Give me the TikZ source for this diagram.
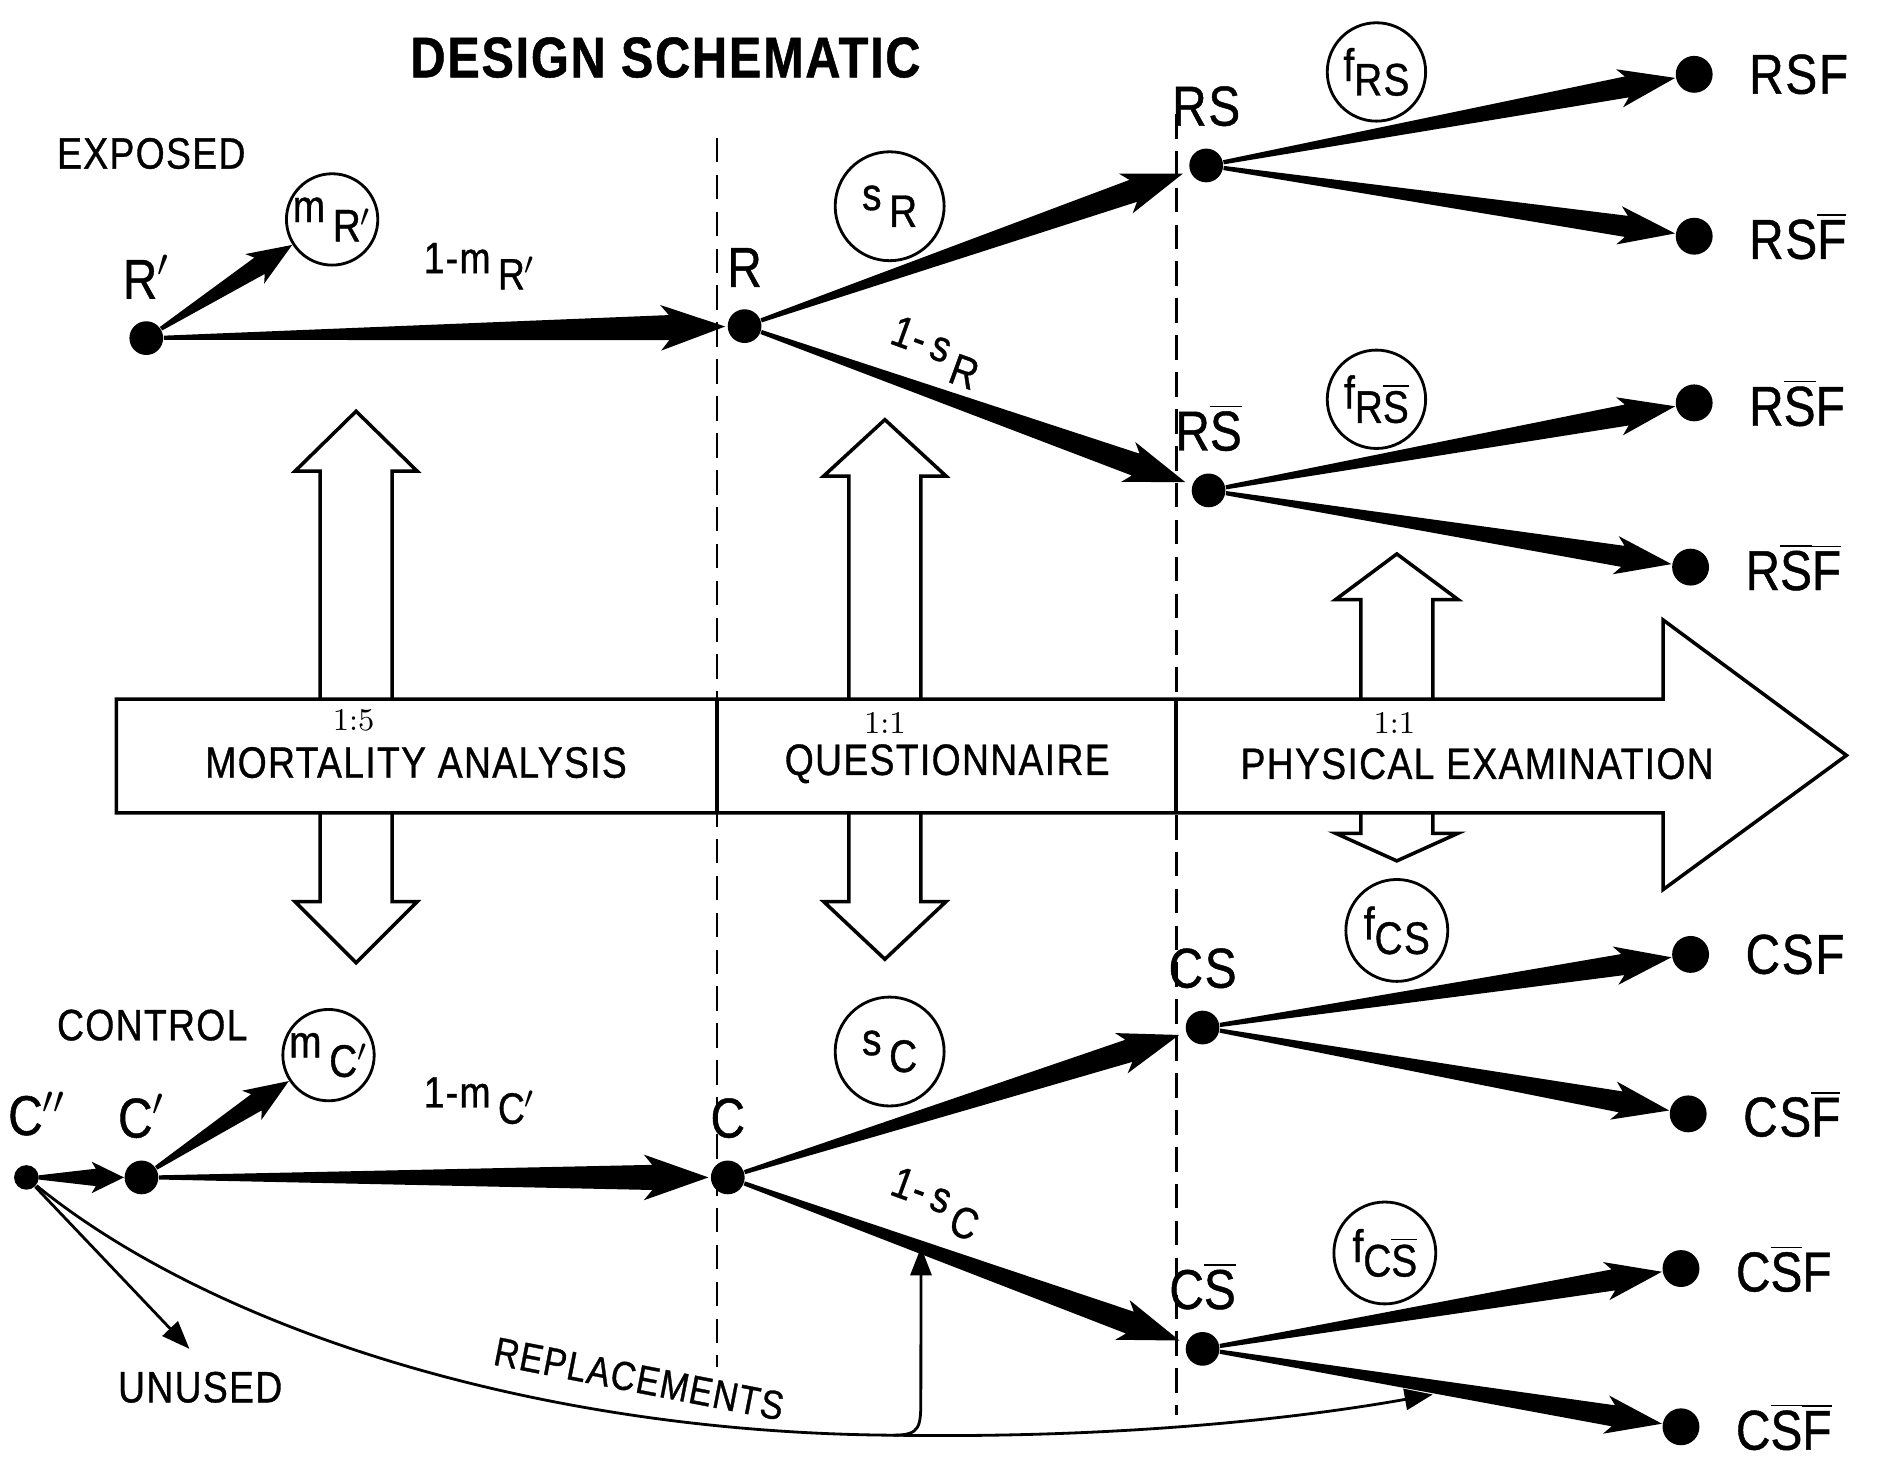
\documentclass[tikz,border=0pt]{standalone}
\usepackage{fontspec}
\setsansfont{Liberation Sans}[FakeStretch=0.85, FakeBold=0.8, LetterSpace=3]
\renewcommand{\familydefault}{\sfdefault}
\usepackage{tikz}
\usetikzlibrary{positioning}
\usetikzlibrary{arrows.meta, calc}

\newcommand\ovl[1]{$\overline{\mbox{#1}}$}
% tapered arrow: from, to, start gap, end gap, head length, head half width
\newcommand\wedgearrow[6]{%
  \fill let \p1=($(#1)!#3!(#2)$), \p2=($(#2)!#4!(#1)$),
            \p3=($(\p2)!#5!(\p1)$), \p4=($(\p2)!1.15*#5!(\p1)$) in
    ($(\p1)!0.6pt!90:(\p2)$) -- ($(\p3)!0.55*#6!-90:(\p1)$) -- ($(\p4)!#6!-90:(\p1)$)
    -- (\p2) -- ($(\p4)!#6!90:(\p1)$) -- ($(\p3)!0.55*#6!90:(\p1)$)
    -- ($(\p1)!0.6pt!-90:(\p2)$) -- cycle;}

\begin{document}
\begin{tikzpicture}[x=0.012cm, y=-0.012cm,
	event/.style={circle, fill=black, inner sep=0pt, minimum size=#1},
	event/.default=9.6pt,
	prob/.style={draw, circle, line width=0.8pt, inner sep=0pt, minimum size=#1,
		font=\fontsize{13}{14}\selectfont},
	prob/.default=26pt,
	lbl/.style={inner sep=0pt, font=\fontsize{16}{18}\selectfont},
	heading/.style={inner sep=0pt, font=\bfseries\fontsize{16.3}{18}\selectfont},
	grp/.style={anchor=west, inner sep=0pt, font=\fontsize{12.5}{14}\selectfont},
	stage/.style={inner sep=0pt, font=\fontsize{12.5}{14}\selectfont},
	ratiotext/.style={inner sep=0pt, font=\rmfamily\fontsize{9}{10}\selectfont},
	divider/.style={dash pattern=on 7pt off 3.5pt, line width=0.8pt},
	hollow/.style={draw, line width=1pt, fill=white, line join=miter},
	thin arr/.style={line width=0.8pt, -{Triangle[length=8pt, width=6pt]}}]

	\useasboundingbox (0,0) rectangle (1568,1216);

	\node [heading] (title) at (555,48) {DESIGN SCHEMATIC};
	\node [grp] (exposed) at (47,128) {EXPOSED};
	\node [grp] (control) at (47,855) {CONTROL};

	% phase dividers
	\draw [divider] (598,115) -- (598,1140);
	\draw [divider] (981,95) -- (981,1180);

	% matching ratio arrows
	\foreach \xc/\yt/\ht/\yb/\hb in {297/343/50/803/51, 738/350/47/800/48, 1165/462/38/718/23} {
		\draw [hollow] (\xc-30,600) -- (\xc-30,\yt+\ht) -- (\xc-51,\yt+\ht) -- (\xc,\yt)
			-- (\xc+51,\yt+\ht) -- (\xc+30,\yt+\ht) -- (\xc+30,600);
		\draw [hollow] (\xc-30,660) -- (\xc-30,\yb-\hb) -- (\xc-51,\yb-\hb) -- (\xc,\yb)
			-- (\xc+51,\yb-\hb) -- (\xc+30,\yb-\hb) -- (\xc+30,660);
	}

	% study phases
	\draw [hollow] (97,583) -- (1387,583) -- (1387,517) -- (1540,630) -- (1387,742)
		-- (1387,678) -- (97,678) -- cycle;
	\draw [line width=1pt] (598,583) -- (598,678) (981,583) -- (981,678);
	\node [ratiotext] (r1) at (295,601) {1:5};
	\node [stage] (mort) at (347,636) {MORTALITY ANALYSIS};
	\node [ratiotext] (r2) at (738,603) {1:1};
	\node [stage] (quest) at (790,637) {QUESTIONNAIRE};
	\node [ratiotext] (r3) at (1163,603) {1:1};
	\node [stage] (phys) at (1232,637) {PHYSICAL EXAMINATION};

	% exposed group
	\node [event] (Rp) at (122,282) {};
	\node [event] (R) at (621,272) {};
	\node [event] (RS) at (1006,138) {};
	\node [event] (RSb) at (1008,409) {};
	\node [event=10.5pt] (RSF) at (1413,62) {};
	\node [event=10.5pt] (RSFb) at (1413,197) {};
	\node [event=10.5pt] (RSbF) at (1413,336) {};
	\node [event=10.5pt] (RSbFb) at (1410,473) {};

	\node [lbl, above=6pt of Rp] (Rplab) {R$'$};
	\node [lbl, above=6pt of R] (Rlab) {R};
	\node [lbl, above=6pt of RS] (RSlab) {RS};
	\node [lbl, above=6pt of RSb] (RSblab) {R\ovl{S}};
	\node [lbl, right=10pt of RSF] (RSFlab) {RSF};
	\node [lbl, right=10pt of RSFb] (RSFblab) {RS\ovl{F}};
	\node [lbl, right=10pt of RSbF] (RSbFlab) {R\ovl{S}F};
	\node [lbl, right=10pt of RSbFb] (RSbFblab) {R\ovl{S}\ovl{F}};

	\node [prob] (mR) at (277,183) {m\,\raisebox{-0.8ex}{R$'$}};
	\node [prob=31pt] (sR) at (742,172) {s\,\raisebox{-0.7ex}{R}};
	\node [prob=28pt] (fRS) at (1148,60) {f\raisebox{-0.6ex}{RS}};
	\node [prob=28pt] (fRSb) at (1148,333) {f\raisebox{-0.6ex}{R\ovl{S}}};
	\node [stage] (mRlab) at (400,222) {1-m\,\raisebox{-0.7ex}{R$'$}};
	\node [stage, rotate=-20] (sRlab) at (780,294) {1-\,s\,\raisebox{-0.7ex}{R}};

	\wedgearrow{Rp}{mR}{5pt}{13.5pt}{11pt}{5pt}
	\wedgearrow{Rp}{R}{5pt}{5.5pt}{16pt}{6.5pt}
	\wedgearrow{R}{RS}{5pt}{7pt}{15pt}{6pt}
	\wedgearrow{R}{RSb}{5pt}{7pt}{15pt}{6pt}
	\wedgearrow{RS}{RSF}{5pt}{5.5pt}{14pt}{5.5pt}
	\wedgearrow{RS}{RSFb}{5pt}{5.5pt}{14pt}{5.5pt}
	\wedgearrow{RSb}{RSbF}{5pt}{5.5pt}{14pt}{5.5pt}
	\wedgearrow{RSb}{RSbFb}{5pt}{5.5pt}{14pt}{5.5pt}

	% control group
	\node [event=7pt] (Cpp) at (22,982) {};
	\node [event] (Cp) at (118,982) {};
	\node [event] (C) at (607,982) {};
	\node [event] (CS) at (1003,857) {};
	\node [event] (CSb) at (1003,1125) {};
	\node [event=10.5pt] (CSF) at (1410,796) {};
	\node [event=10.5pt] (CSFb) at (1408,929) {};
	\node [event=10.5pt] (CSbF) at (1402,1058) {};
	\node [event=10.5pt] (CSbFb) at (1402,1190) {};

	\node [lbl, above=8pt of Cpp, xshift=3pt] (Cpplab) {C$''$};
	\node [lbl, above=6pt of Cp] (Cplab) {C$'$};
	\node [lbl, above=6pt of C] (Clab) {C};
	\node [lbl, above=6pt of CS] (CSlab) {CS};
	\node [lbl, above=6pt of CSb] (CSblab) {C\ovl{S}};
	\node [lbl, right=10pt of CSF] (CSFlab) {CSF};
	\node [lbl, right=10pt of CSFb] (CSFblab) {CS\ovl{F}};
	\node [lbl, right=10pt of CSbF] (CSbFlab) {C\ovl{S}F};
	\node [lbl, right=10pt of CSbFb] (CSbFblab) {C\ovl{S}\ovl{F}};

	\node [prob] (mC) at (274,880) {m\,\raisebox{-0.8ex}{C$'$}};
	\node [prob=31pt] (sC) at (742,877) {s\,\raisebox{-0.7ex}{C}};
	\node [prob=29pt] (fCS) at (1165,776) {f\raisebox{-0.6ex}{CS}};
	\node [prob=29pt] (fCSb) at (1155,1045) {f\raisebox{-0.6ex}{C\ovl{S}}};
	\node [stage] (mClab) at (400,918) {1-m\,\raisebox{-0.7ex}{C$'$}};
	\node [stage, rotate=-20] (sClab) at (780,1004) {1-\,s\,\raisebox{-0.7ex}{C}};

	% unused and replacement controls
	\coordinate (unusedtip) at (158,1125);
	\coordinate (rep) at (745,1197);
	\coordinate (repup) at ($(C)!0.407!(CSb)$);
	\coordinate (repend) at (1195,1163);
	\draw [thin arr] (Cpp) -- (unusedtip);
	\node [stage] (unused) at (167,1157) {UNUSED};
	\draw [line width=0.8pt] (Cpp) .. controls (180,1110) and (450,1195) .. (rep);
	\draw [thin arr] (rep) .. controls (768,1197) and (768,1190) .. (768,1165) -- (repup);
	\draw [thin arr] (rep) .. controls (950,1200) and (1100,1180) .. (repend);
	\node [stage, rotate=-11, font=\fontsize{11.5}{12}\selectfont] (replab) at (533,1150) {REPLACEMENTS};

	\wedgearrow{Cpp}{Cp}{3.5pt}{5pt}{8pt}{4.5pt}
	\wedgearrow{Cp}{mC}{5pt}{13.5pt}{11pt}{5pt}
	\wedgearrow{Cp}{C}{5pt}{5.5pt}{16pt}{6.5pt}
	\wedgearrow{C}{CS}{5pt}{7pt}{15pt}{6pt}
	\wedgearrow{C}{CSb}{5pt}{7pt}{15pt}{6pt}
	\wedgearrow{CS}{CSF}{5pt}{5.5pt}{14pt}{5.5pt}
	\wedgearrow{CS}{CSFb}{5pt}{5.5pt}{14pt}{5.5pt}
	\wedgearrow{CSb}{CSbF}{5pt}{5.5pt}{14pt}{5.5pt}
	\wedgearrow{CSb}{CSbFb}{5pt}{5.5pt}{14pt}{5.5pt}
\end{tikzpicture}
\end{document}
